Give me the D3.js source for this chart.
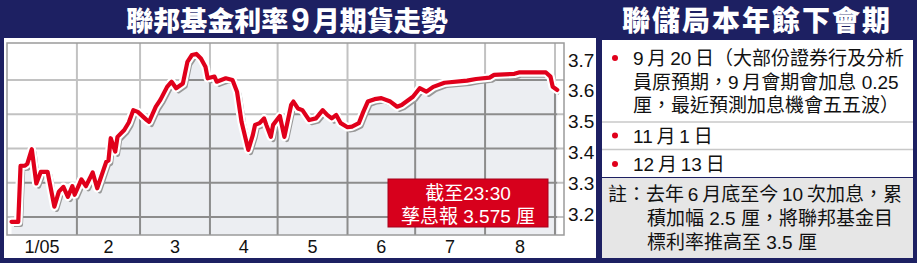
<!DOCTYPE html>
<html>
<head>
<meta charset="utf-8">
<script src="https://cdn.jsdelivr.net/npm/d3@7"></script>
<style>
  body { margin: 0; background: #1d2062; }
  svg { display: block; }
  text { font-family: "Liberation Sans", "Noto Sans CJK TC", sans-serif; }
</style>
</head>
<body>
<svg id="chart" width="917" height="263"></svg>
<script>
// Fed funds Sept futures, 2005
let dates = ["01-03","01-06","01-07","01-09","01-10","01-12","01-14","01-16","01-19","01-22",
  "01-24","01-26","01-28","01-30","01-31","02-03","02-05","02-08","02-10","02-14",
  "02-15","02-16","02-18","02-19","02-22","02-24","02-26","02-28","03-04","03-05",
  "03-08","03-10","03-13","03-15","03-17","03-20","03-22","03-24","03-26","03-28",
  "03-30","03-31","04-03","04-04","04-06","04-08","04-11","04-13","04-15","04-18",
  "04-20","04-21","04-23","04-25","04-26","04-28","04-29","05-02","05-04","05-07",
  "05-08","05-10","05-12","05-15","05-18","05-21","05-23","05-25","05-27","05-29",
  "06-01","06-03","06-06","06-08","06-10","06-13","06-16","06-20","06-23","06-25",
  "06-30","07-03","07-06","07-09","07-14","07-24","07-28","08-03","08-05","08-14",
  "08-16","08-28","08-30","08-31","09-02"];
let values = [3.186,3.186,3.349,3.350,3.355,3.398,3.298,3.332,3.332,3.230,
  3.274,3.288,3.259,3.290,3.265,3.310,3.290,3.330,3.284,3.361,
  3.365,3.430,3.391,3.434,3.454,3.476,3.512,3.507,3.483,3.478,
  3.522,3.542,3.580,3.595,3.576,3.590,3.653,3.673,3.676,3.663,
  3.639,3.605,3.610,3.595,3.600,3.605,3.600,3.566,3.478,3.396,
  3.439,3.469,3.474,3.488,3.469,3.434,3.469,3.495,3.434,3.527,
  3.537,3.517,3.512,3.483,3.488,3.512,3.498,3.488,3.498,3.474,
  3.462,3.464,3.474,3.507,3.537,3.544,3.547,3.537,3.522,3.527,
  3.551,3.576,3.566,3.580,3.592,3.598,3.603,3.607,3.615,3.618,
  3.622,3.622,3.610,3.580,3.571];

let monthLabels = ["1/05","2","3","4","5","6","7","8"];
let yTicks = [3.2, 3.3, 3.4, 3.5, 3.6, 3.7];
let gridValues = [3.2, 3.3, 3.4, 3.5, 3.6];

let titleLeft = ["聯邦基金利率", "9", "月期貨走勢"];
let titleRight = "聯儲局本年餘下會期";
let meetings = [
  ["9\u2009月\u200920\u2009日（大部份證券行及分析", "員原預期，9\u2009月會期會加息 0.25", "厘，最近預測加息機會五五波）"],
  ["11\u2009月\u20091\u2009日"],
  ["12\u2009月\u200913\u2009日"]
];
let notes = ["註：去年\u20096\u2009月底至今\u200910\u2009次加息，累", "積加幅 2.5 厘，將聯邦基金目", "標利率推高至 3.5 厘"];
let callout = ["截至23:30", "孳息報 3.575 厘"];

let navy = "#1d2062", red = "#e0001b";
let parse = d3.timeParse("%Y-%m-%d");
let data = dates.map((d, i) => ({ date: parse("2005-" + d), value: values[i] }));

let svg = d3.select("#chart");

// panels
svg.append("rect").attr("x", 0).attr("y", 0).attr("width", 917).attr("height", 263).attr("fill", navy);
svg.append("rect").attr("x", 4).attr("y", 38).attr("width", 592).attr("height", 220).attr("fill", "#fff");

// left title
let tl = svg.append("text").attr("x", 287).attr("y", 31)
  .attr("text-anchor", "middle").attr("fill", "#fff")
  .style("font-family", "'Noto Sans CJK TC'").style("font-weight", 900)
  .style("font-size", "27px");
tl.append("tspan").text(titleLeft[0]);
tl.append("tspan").text(titleLeft[1]).style("font-family", "'Liberation Sans'")
  .style("font-weight", 700).style("font-size", "33px").attr("dx", 3);
tl.append("tspan").text(titleLeft[2]).attr("dx", 3);

// plot area
let pLeft = 7, pRight = 564, pTop = 43, pBottom = 235;

let x = d3.scaleTime()
  .domain([new Date(2005, 0, 1), new Date(2005, 8, 5)])
  .range([pLeft, pRight]);

let y = d3.scaleLinear()
  .domain([3.2, 3.6])
  .range([217, 80]);

// labels on the right sit a little apart from the grid
let yLabel = d3.scaleLinear()
  .domain([3.2, 3.7])
  .range([214, 60]);

let monthStarts = d3.timeMonth.range(new Date(2005, 1, 1), new Date(2005, 8, 2));

let plot = svg.append("g");

plot.append("rect").attr("x", pLeft).attr("y", pTop)
  .attr("width", pRight - pLeft).attr("height", pBottom - pTop).attr("fill", "#fff");

let area = d3.area()
  .x(d => x(d.date))
  .y0(pBottom)
  .y1(d => y(d.value));

let line = d3.line()
  .x(d => x(d.date))
  .y(d => y(d.value));

svg.append("clipPath").attr("id", "under")
  .append("path").datum(data).attr("d", area);

function drawGrid(g, color) {
  g.selectAll(".hg").data(gridValues).enter().append("line")
    .attr("x1", pLeft).attr("x2", pRight)
    .attr("y1", d => y(d)).attr("y2", d => y(d))
    .attr("stroke", color).attr("stroke-width", 2);
  g.selectAll(".vg").data(monthStarts).enter().append("line")
    .attr("x1", d => x(d)).attr("x2", d => x(d))
    .attr("y1", pTop).attr("y2", pBottom)
    .attr("stroke", color).attr("stroke-width", 2);
}

drawGrid(plot.append("g"), "#c2c2c2");

plot.append("path").datum(data).attr("d", area).attr("fill", "#eceef2");

drawGrid(plot.append("g").attr("clip-path", "url(#under)"), "#8c8c8c");

// line: shadow, white halo, red
plot.append("path").datum(data).attr("d", line)
  .attr("transform", "translate(2.5,3)")
  .attr("fill", "none").attr("stroke", "#999").attr("stroke-width", 4.5)
  .attr("stroke-linejoin", "round");
plot.append("path").datum(data).attr("d", line)
  .attr("fill", "none").attr("stroke", "#fff").attr("stroke-width", 8.5)
  .attr("stroke-linejoin", "round").attr("stroke-linecap", "round");
plot.append("path").datum(data).attr("d", line)
  .attr("fill", "none").attr("stroke", red).attr("stroke-width", 4.2)
  .attr("stroke-linejoin", "round").attr("stroke-linecap", "round");

plot.append("rect").attr("x", pLeft).attr("y", pTop)
  .attr("width", pRight - pLeft).attr("height", pBottom - pTop)
  .attr("fill", "none").attr("stroke", "#9b9b9b").attr("stroke-width", 1.5);

// month labels, centred in each month
let monthBands = d3.timeMonth.range(new Date(2005, 0, 1), new Date(2005, 8, 1));
svg.append("g").selectAll("text").data(monthBands).enter().append("text")
  .attr("x", d => (x(d) + x(d3.timeMonth.offset(d, 1))) / 2)
  .attr("y", 253)
  .attr("text-anchor", "middle")
  .style("font-size", "18px").attr("fill", "#111")
  .text((d, i) => monthLabels[i]);

// y axis labels
let yAxis = svg.append("g")
  .attr("transform", "translate(566,0)")
  .call(d3.axisRight(yLabel).tickValues(yTicks).tickSize(0).tickFormat(d3.format(".1f")));
yAxis.select(".domain").remove();
yAxis.selectAll("text")
  .style("font-size", "19px")
  .style("font-family", "'Liberation Sans'")
  .attr("fill", "#111")
  .attr("x", 2);

// callout box
let cb = svg.append("g");
cb.append("rect").attr("x", 388).attr("y", 179).attr("width", 160).attr("height", 48)
  .attr("fill", "#d7001c").attr("stroke", "#a5001a").attr("stroke-width", 1);
cb.selectAll("text").data(callout).enter().append("text")
  .attr("x", 468).attr("y", (d, i) => 200 + i * 23)
  .attr("text-anchor", "middle").attr("fill", "#fff")
  .style("font-size", "19px").text(d => d);

// right panel
svg.append("text").attr("x", 757).attr("y", 31)
  .attr("text-anchor", "middle").attr("fill", "#fff")
  .style("font-family", "'Noto Sans CJK TC'").style("font-weight", 900)
  .style("font-size", "28px").style("letter-spacing", "2px")
  .text(titleRight);

svg.append("rect").attr("x", 602).attr("y", 40).attr("width", 311).attr("height", 137)
  .attr("fill", "#fff");
svg.append("rect").attr("x", 602).attr("y", 178).attr("width", 311).attr("height", 80)
  .attr("fill", "#e6e6e6");

let rowY = [[65, 88.5, 111.5], [142.5], [171]];
let sepY = [122, 149.5];
sepY.forEach(s => svg.append("line").attr("x1", 602).attr("x2", 913)
  .attr("y1", s).attr("y2", s).attr("stroke", "#c8c8c8").attr("stroke-width", 1.5));

meetings.forEach((m, i) => {
  svg.append("circle").attr("cx", 615).attr("cy", rowY[i][0] - 7).attr("r", 3).attr("fill", red);
  m.forEach((t, j) => {
    svg.append("text").attr("x", 633).attr("y", rowY[i][j])
      .style("font-size", "19px").attr("fill", "#111").text(t);
  });
});

notes.forEach((t, i) => {
  svg.append("text").attr("x", i === 0 ? 608 : 647).attr("y", 201 + i * 24)
    .style("font-size", "19px").attr("fill", "#111").text(t);
});
</script>
</body>
</html>
